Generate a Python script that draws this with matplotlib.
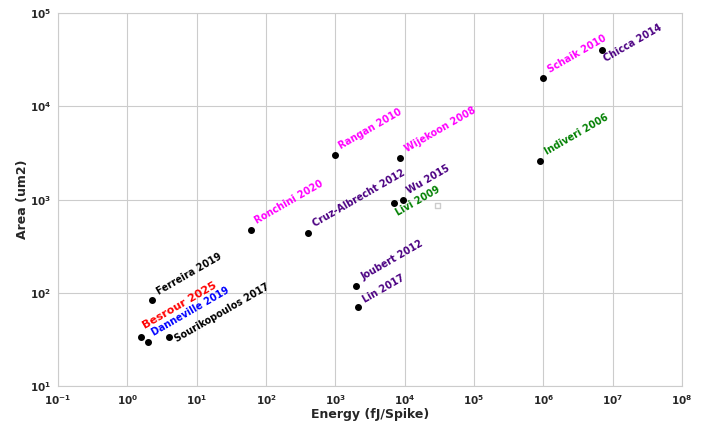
import matplotlib
matplotlib.use('Agg')
import matplotlib.pyplot as plt
import seaborn as sns

# Data (energy in fJ/spike, area in um2)
names = ['Besrour 2025', 'Danneville 2019', 'Sourikopoulos 2017', 'Ferreira 2019',
         'Ronchini 2020', 'Cruz-Albrecht 2012', 'Rangan 2010', 'Wijekoon 2008',
         'Wu 2015', 'Livi 2009', 'Joubert 2012', 'Lin 2017',
         'Schaik 2010', 'Chicca 2014', 'Indiveri 2006']
energy = [1.6, 2.0, 4.0, 2.3,
          60, 400, 1000, 8500,
          9500, 6900, 2000, 2100,
          1.0e6, 7.0e6, 9.0e5]
area = [34, 30, 34, 84,
        470, 440, 3000, 2800,
        1000, 920, 118, 70,
        20000, 40000, 2600]
colors = ['red', 'blue', 'black', 'black',
          'magenta', 'indigo', 'magenta', 'magenta',
          'indigo', 'green', 'indigo', 'indigo',
          'magenta', 'indigo', 'green']
# label offsets in pixels
offsets = [(5, 6), (7, 4), (9, -7), (8, 3),
           (7, 4), (8, 4), (7, 4), (8, 4),
           (7, 4), (5, -15), (8, 4), (8, 3),
           (8, 4), (5, -14), (8, 4)]
sizes = [8, 6.9, 6.9, 6.9, 6.9, 6.9, 6.9, 6.9, 6.9, 6.9, 6.9, 6.9, 6.9, 6.9, 6.9]

# stray hollow marker
extra_x = [3.0e4]
extra_y = [870]

sns.set_style('whitegrid')
plt.rcParams['font.family'] = ['DejaVu Sans']
plt.rcParams['font.weight'] = 'bold'
plt.rcParams['axes.labelweight'] = 'bold'

fig = plt.figure(figsize=(7.15, 4.22), dpi=100)
ax = fig.add_axes([0.081, 0.085, 0.873, 0.884])

ax.scatter(energy, area, color='black', s=16, zorder=3)
ax.scatter(extra_x, extra_y, marker='s', facecolor='none', edgecolor='#cccccc', s=14, zorder=3)

for n, x, y, c, off, fs in zip(names, energy, area, colors, offsets, sizes):
    ax.annotate(n, (x, y), xytext=off, textcoords='offset pixels', color=c,
                fontsize=fs, fontweight='bold', rotation=30, rotation_mode='anchor',
                ha='left', va='bottom')

ax.set_xscale('log')
ax.set_yscale('log')
ax.set_xlim(1e-1, 1e8)
ax.set_ylim(1e1, 1e5)
ax.set_xticks([10.0 ** k for k in range(-1, 9)])
ax.set_yticks([10.0 ** k for k in range(1, 6)])
ax.minorticks_off()
ax.tick_params(labelsize=7.5, pad=1.5)
ax.set_xlabel('Energy (fJ/Spike)', fontsize=9, labelpad=0.5)
ax.set_ylabel('Area (um2)', fontsize=9, labelpad=0.5)

fig.savefig('out.png', dpi=100)
